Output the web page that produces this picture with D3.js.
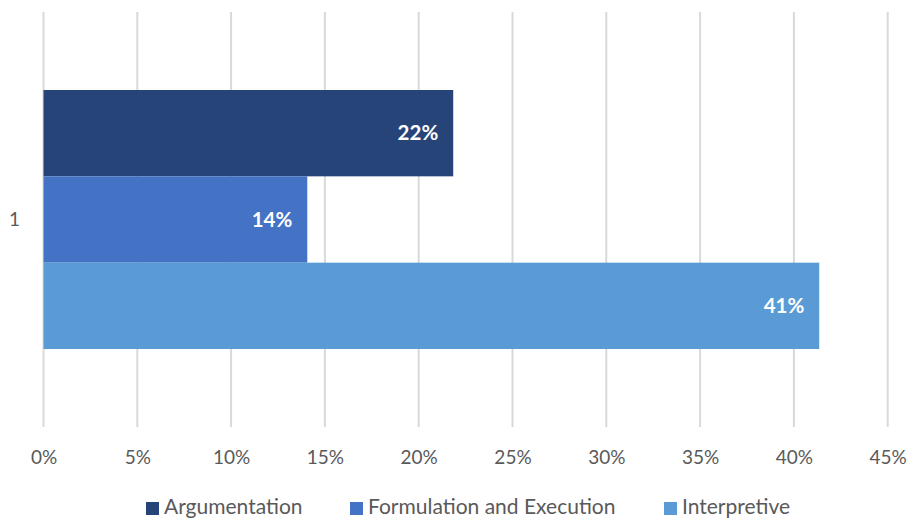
<!DOCTYPE html>
<html>
  <head>
    <script src="https://d3js.org/d3.v7.min.js"></script>
    <style>
      body { margin: 0; background: #fff; }
      text { font-family: Lato, "Open Sans", sans-serif; }
    </style>
  </head>
  <body>
    <svg width="908" height="519"></svg>
  </body>
  <script>
    // values
    const categories = ['1'];
    const seriesNames = ['Argumentation', 'Formulation and Execution', 'Interpretive'];
    const seriesValues = [0.2184, 0.1406, 0.4135];
    const seriesColors = ['#264478', '#4472C4', '#5B9BD5'];
    const xTicks = [0, 0.05, 0.1, 0.15, 0.2, 0.25, 0.3, 0.35, 0.4, 0.45];

    const svg = d3.select('svg');
    const margin = { top: 12, left: 43.5, right: 20 };
    const plotBottom = 427;

    const xScale = d3.scaleLinear().domain([0, 0.45]).range([margin.left, 887.7]);

    const yScale = d3.scaleBand()
      .domain(categories)
      .range([margin.top, plotBottom]);

    // bars inside the category band
    const inner = d3.scaleBand()
      .domain(seriesNames)
      .range([yScale('1') + 78, yScale('1') + yScale.bandwidth() - 78]);

    // gridlines
    svg.append('g')
      .selectAll('line').data(xTicks)
      .enter().append('line')
        .attr('x1', d => xScale(d)).attr('x2', d => xScale(d))
        .attr('y1', margin.top).attr('y2', plotBottom)
        .attr('stroke', '#d9d9d9')
        .attr('stroke-width', 2);

    // x axis labels
    const xAxis = d3.axisBottom(xScale)
      .tickValues(xTicks)
      .tickFormat(d3.format('.0%'))
      .tickSize(0)
      .tickPadding(0);
    const xAxisG = svg.append('g')
      .attr('transform', `translate(0,${plotBottom + 23})`)
      .call(xAxis);
    xAxisG.select('.domain').remove();
    xAxisG.selectAll('text')
      .attr('font-size', 19)
      .attr('fill', '#595959')
      .attr('font-family', 'Lato, sans-serif');

    // category label
    svg.append('text')
      .attr('x', 20)
      .attr('y', yScale('1') + yScale.bandwidth() / 2)
      .attr('dy', '0.35em')
      .attr('text-anchor', 'end')
      .attr('font-size', 19)
      .attr('fill', '#595959')
      .text(categories[0]);

    const rows = seriesNames.map((n, i) => ({ name: n, value: seriesValues[i], color: seriesColors[i] }));

    svg.append('g').selectAll('rect').data(rows)
      .enter().append('rect')
        .attr('x', xScale(0))
        .attr('y', d => inner(d.name))
        .attr('width', d => xScale(d.value) - xScale(0))
        .attr('height', inner.bandwidth())
        .attr('fill', d => d.color);

    svg.append('g').selectAll('text').data(rows)
      .enter().append('text')
        .attr('x', d => xScale(d.value) - 15)
        .attr('y', d => inner(d.name) + inner.bandwidth() / 2)
        .attr('dy', '0.35em')
        .attr('text-anchor', 'end')
        .attr('font-size', 20.5)
        .attr('font-weight', 'bold')
        .attr('fill', '#fff')
        .text(d => d3.format('.0%')(d.value));

    // legend
    const legendX = [146, 350, 664];
    const legend = svg.append('g').selectAll('g').data(rows)
      .enter().append('g')
        .attr('transform', (d, i) => `translate(${legendX[i]},500)`);
    legend.append('rect')
      .attr('width', 13).attr('height', 13)
      .attr('y', 2)
      .attr('fill', d => d.color);
    legend.append('text')
      .attr('x', 18)
      .attr('y', 14)
      .attr('font-size', 21)
      .attr('fill', '#595959')
      .text(d => d.name);
  </script>
</html>
